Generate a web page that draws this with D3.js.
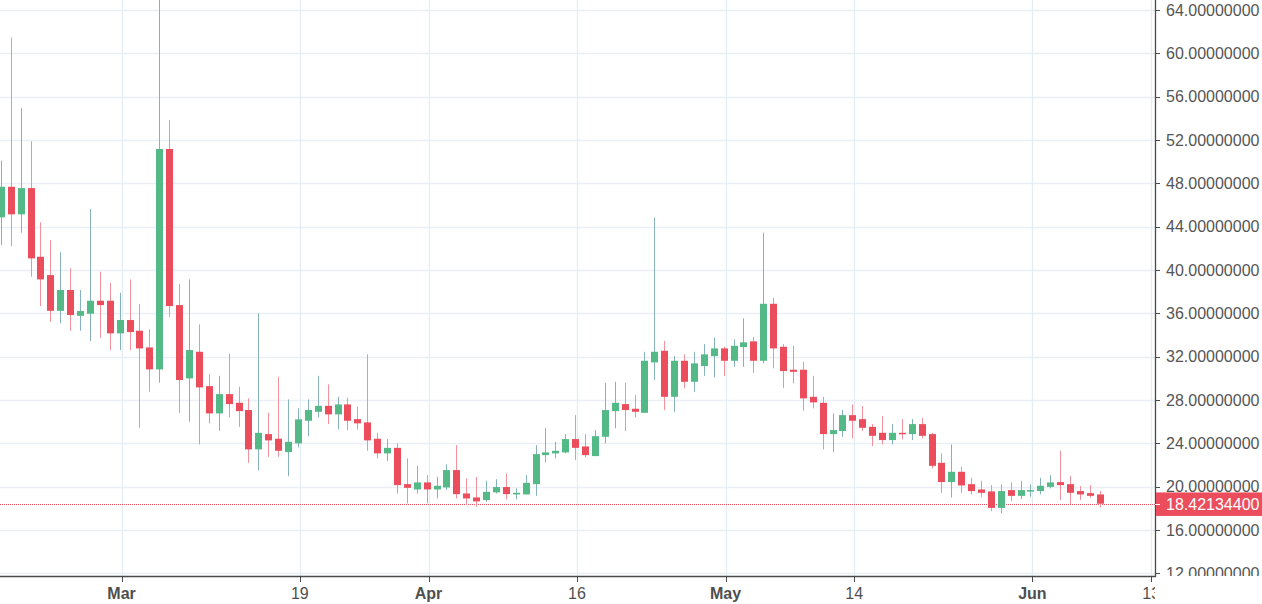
<!DOCTYPE html>
<html><head><meta charset="utf-8">
<script src="https://cdn.jsdelivr.net/npm/d3@7"></script>
<style>html,body{margin:0;padding:0;background:#fff;overflow:hidden}</style>
</head><body><svg id="c" width="1262" height="604"></svg>
<script>
// ---- data ----
const startDate = "2018-02-17"; // first candle, one candle per day
const opens  = [44.86,47.68,45.14,47.56,41.22,39.53,36.23,38.15,35.77,35.96,37.16,37.16,34.15,35.38,34.39,32.85,30.82,51.17,36.76,29.99,
  32.45,29.28,26.76,28.54,27.74,27.07,23.44,24.85,24.42,23.19,23.99,26.08,26.91,27.46,26.67,27.59,26.23,25.93,24.42,23.07,
  23.58,20.23,19.74,20.39,19.74,19.93,21.53,19.37,19.00,18.76,19.47,19.96,19.28,19.28,20.23,22.91,23.07,23.16,24.39,23.71,
  22.82,24.60,26.97,27.62,27.19,26.82,31.47,32.54,28.29,31.62,29.68,31.13,32.05,32.76,31.62,32.88,33.41,31.62,36.88,32.91,
  30.79,30.79,28.29,27.74,24.85,25.13,26.60,26.23,25.52,24.97,24.30,24.97,24.85,25.77,24.85,22.20,20.42,21.37,20.23,19.74,
  19.56,18.04,19.68,19.15,19.56,19.59,19.98,20.42,20.23,19.59,19.40,19.28];
const highs  = [50.09,61.44,54.92,51.88,44.40,42.76,41.63,40.15,38.15,45.63,39.84,38.82,37.90,39.13,36.85,34.54,66.00,53.84,38.70,39.13,
  34.98,30.39,30.23,32.30,29.22,28.15,35.99,26.82,30.14,28.05,27.22,28.05,30.23,29.44,28.29,28.20,27.37,32.21,24.97,24.39,
  23.99,22.61,21.90,21.06,20.91,22.05,23.83,20.76,20.91,20.54,20.69,21.22,19.84,21.06,23.83,25.38,24.14,24.85,26.60,24.85,
  25.22,29.59,29.68,29.59,28.45,32.45,44.82,33.44,32.05,32.21,32.45,33.16,33.74,32.91,33.59,35.53,33.83,43.44,37.43,33.16,
  33.00,31.53,30.20,28.29,26.76,27.07,27.59,27.43,25.77,26.51,25.77,26.23,26.23,26.35,24.97,23.07,23.90,21.83,20.81,20.54,
  20.14,20.20,20.39,20.54,20.20,20.81,21.06,23.31,20.97,20.05,20.14,19.59];
const lows   = [42.30,42.20,43.44,39.38,36.67,35.22,35.07,34.39,34.39,33.44,33.74,32.61,32.61,32.61,25.43,28.76,29.59,35.68,26.82,25.99,
  23.90,25.84,25.15,26.39,25.52,22.20,21.53,22.75,22.75,20.97,23.62,24.66,26.39,25.77,25.28,25.22,25.28,23.31,22.61,22.36,
  19.37,18.45,19.37,18.45,18.91,19.68,18.91,18.29,18.14,18.60,19.37,18.82,18.82,19.28,19.15,22.24,22.61,23.07,22.45,22.70,
  22.82,23.99,25.38,25.13,26.39,26.82,29.84,27.07,26.91,29.07,28.76,30.23,30.08,30.23,31.06,31.06,30.51,31.38,30.92,29.12,
  29.53,27.00,27.22,23.44,23.22,24.60,24.45,25.13,23.74,23.90,23.90,24.36,24.30,24.45,21.68,19.43,19.00,19.43,19.28,19.06,
  17.74,17.53,18.69,18.85,19.06,19.28,19.84,18.76,18.39,18.76,18.97,18.08];
const closes = [47.68,45.14,47.56,41.07,39.13,36.23,38.15,35.84,36.21,37.16,36.76,34.15,35.38,34.27,32.76,30.82,51.17,36.67,29.84,32.61,
  29.16,26.76,28.54,27.62,26.97,23.44,24.97,24.27,23.31,24.14,26.21,27.07,27.46,26.67,27.59,26.08,25.84,24.27,23.07,23.58,
  20.14,19.89,20.39,19.74,20.08,21.53,19.31,18.91,18.64,19.52,19.96,19.31,19.43,20.35,23.00,23.16,23.31,24.39,23.58,22.91,
  24.66,27.07,27.74,27.07,26.91,31.62,32.45,28.29,31.62,29.68,31.38,32.21,32.76,31.62,33.00,33.32,31.62,36.88,32.76,30.67,
  30.60,28.15,27.78,24.85,25.22,26.60,26.08,25.43,24.69,24.30,24.97,24.85,25.77,24.69,21.92,20.42,21.37,20.11,19.59,19.43,
  18.04,19.59,19.15,19.68,19.68,20.08,20.39,20.14,19.43,19.28,19.15,18.421344];
const yTickValues = [12,16,20,24,28,32,36,40,44,48,52,56,60,64];
const xTickDates  = ["2018-03-01","2018-03-19","2018-04-01","2018-04-16","2018-05-01","2018-05-14","2018-06-01","2018-06-13"];
const xTickLabels = ["Mar","19","Apr","16","May","14","Jun","13"];
const xTickBold   = [true,false,true,false,true,false,true,false];
const lastPrice = 18.421344;

// ---- layout ----
const W = 1262, H = 604, plotR = 1155, plotB = 576;
const UP = "#53b987", DOWN = "#eb4d5c", UPW = "#86b3b9", DOWNW = "#f0919b";
const parse = d3.utcParse("%Y-%m-%d");
const start = parse(startDate);
const candles = opens.map((o, i) => ({date: d3.utcDay.offset(start, i), o, h: highs[i], l: lows[i], c: closes[i]}));

const x = d3.scaleUtc().domain([parse("2018-03-01"), parse("2018-06-13")]).range([121.6, 1151.2]);
const y = d3.scaleLinear().domain([12, 64]).range([573.3, 10]);

const svg = d3.select("#c");
const defs = svg.append("defs");
defs.append("clipPath").attr("id", "plot").append("rect").attr("x", 0).attr("y", 0).attr("width", plotR).attr("height", plotB);
defs.append("clipPath").attr("id", "yax").append("rect").attr("x", plotR).attr("y", 0).attr("width", W - plotR).attr("height", plotB);
defs.append("clipPath").attr("id", "xax").append("rect").attr("x", 0).attr("y", plotB).attr("width", plotR).attr("height", H - plotB);

// grid
const grid = svg.append("g").attr("clip-path", "url(#plot)");
grid.selectAll("line.h").data(yTickValues).join("line")
  .attr("x1", 0).attr("x2", plotR)
  .attr("y1", d => Math.round(y(d)) + 0.5).attr("y2", d => Math.round(y(d)) + 0.5)
  .attr("stroke", "#ebeff4").attr("stroke-width", 1.3);
grid.selectAll("line.v").data(xTickDates).join("line")
  .attr("x1", d => Math.round(x(parse(d))) + 0.5).attr("x2", d => Math.round(x(parse(d))) + 0.5)
  .attr("y1", 0).attr("y2", plotB)
  .attr("stroke", "#e3edf3").attr("stroke-width", 1.3);

// last price dotted line
svg.append("line").attr("x1", 0).attr("x2", plotR)
  .attr("y1", Math.round(y(lastPrice)) + 0.5).attr("y2", Math.round(y(lastPrice)) + 0.5)
  .attr("stroke", DOWN).attr("stroke-width", 1).attr("stroke-dasharray", "1,1");

// candles
const cg = svg.append("g").attr("clip-path", "url(#plot)");
const bw = 7;
const g = cg.selectAll("g.c").data(candles).join("g");
g.append("line")
  .attr("x1", d => Math.round(x(d.date) - 1.4 - bw / 2) + bw / 2)
  .attr("x2", d => Math.round(x(d.date) - 1.4 - bw / 2) + bw / 2)
  .attr("y1", d => y(d.h)).attr("y2", d => y(d.l))
  .attr("stroke", d => d.c >= d.o ? UPW : DOWNW).attr("stroke-width", 1);
g.append("rect")
  .attr("x", d => Math.round(x(d.date) - 1.4 - bw / 2))
  .attr("width", bw)
  .attr("y", d => y(Math.max(d.o, d.c)))
  .attr("height", d => Math.max(1.5, Math.abs(y(d.o) - y(d.c))))
  .attr("fill", d => d.c >= d.o ? UP : DOWN);

// axes lines
svg.append("line").attr("x1", plotR + 0.5).attr("x2", plotR + 0.5).attr("y1", 0).attr("y2", plotB + 1)
  .attr("stroke", "#4a4a4a").attr("stroke-width", 1.3);
svg.append("line").attr("x1", 0).attr("x2", plotR + 1).attr("y1", plotB + 0.5).attr("y2", plotB + 0.5)
  .attr("stroke", "#4a4a4a").attr("stroke-width", 1.3);

// y axis
const ya = svg.append("g").attr("clip-path", "url(#yax)");
ya.selectAll("line").data(yTickValues).join("line")
  .attr("x1", plotR).attr("x2", plotR + 5)
  .attr("y1", d => Math.round(y(d)) + 0.5).attr("y2", d => Math.round(y(d)) + 0.5)
  .attr("stroke", "#4a4a4a");
ya.selectAll("text").data(yTickValues).join("text")
  .attr("x", 1166).attr("y", d => y(d) + 5.8)
  .attr("font-family", "Liberation Sans, Arial, sans-serif").attr("font-size", 16)
  .attr("fill", "#555555").text(d => d3.format(".8f")(d));

// last price label
const ly = y(lastPrice);
svg.append("rect").attr("x", plotR + 1).attr("y", ly - 11.3).attr("width", W - plotR).attr("height", 23.5).attr("fill", DOWN);
svg.append("line").attr("x1", plotR).attr("x2", plotR + 5).attr("y1", Math.round(ly) + 0.5).attr("y2", Math.round(ly) + 0.5).attr("stroke", "#fff");
svg.append("text").attr("x", 1166).attr("y", ly + 6.3)
  .attr("font-family", "Liberation Sans, Arial, sans-serif").attr("font-size", 16)
  .attr("fill", "#fff").text(d3.format(".8f")(lastPrice));

// x axis
const xa = svg.append("g").attr("clip-path", "url(#xax)");
xa.selectAll("line").data(xTickDates).join("line")
  .attr("x1", d => Math.round(x(parse(d))) + 0.5).attr("x2", d => Math.round(x(parse(d))) + 0.5)
  .attr("y1", plotB).attr("y2", plotB + 6).attr("stroke", "#4a4a4a");
xa.selectAll("text").data(xTickDates).join("text")
  .attr("x", d => x(parse(d))).attr("y", 599)
  .attr("text-anchor", "middle")
  .attr("font-family", "Liberation Sans, Arial, sans-serif").attr("font-size", 16)
  .attr("font-weight", (d, i) => xTickBold[i] ? "bold" : "normal")
  .attr("fill", "#4f4f4f").text((d, i) => xTickLabels[i]);
</script></body></html>
